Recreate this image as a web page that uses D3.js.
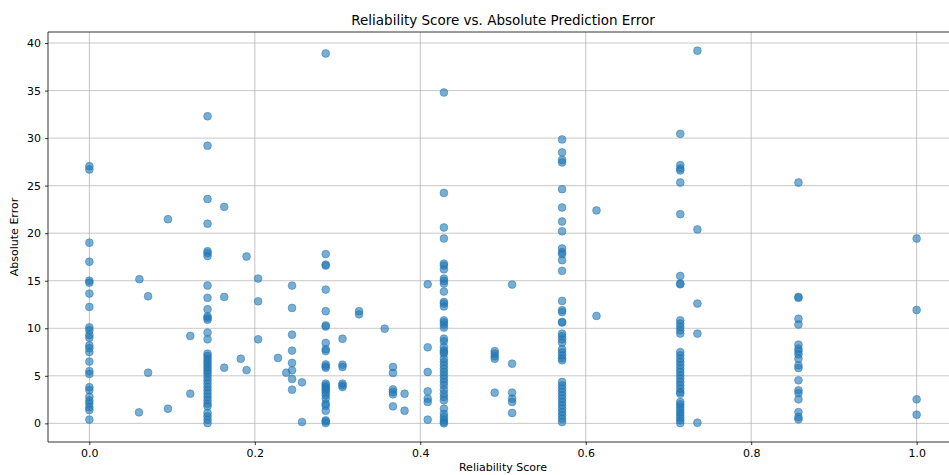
<!DOCTYPE html>
<html>
<head>
<meta charset="utf-8">
<script src="https://cdn.jsdelivr.net/npm/d3@7"></script>
<style>
  html, body { margin: 0; padding: 0; background: #fff; }
  svg { display: block; font-family: "DejaVu Sans", sans-serif; }
</style>
</head>
<body>
<svg id="chart" width="949" height="475"></svg>
<script>
// Absolute error of each prediction, grouped by reliability score k/7
const errAt0 = [27.05, 26.7, 19.0, 17.0, 15.0, 14.8, 13.65, 12.25, 10.1, 9.8, 9.3, 9.0, 8.2, 7.9, 7.5, 6.5, 5.5, 5.2, 3.8, 3.5, 2.8, 2.4, 2.1, 1.7, 1.4, 0.4];
const errAt1of7 = [32.3, 29.2, 23.6, 21.0, 18.1, 17.9, 17.6, 14.5, 13.2, 12.0, 11.26, 11.1, 10.9, 9.55, 8.84, 7.33, 7.09, 6.8, 6.53, 6.28, 6.0, 5.75, 5.47, 5.23, 4.88, 4.53, 4.18, 3.82, 3.47, 3.12, 2.77, 2.42, 2.07, 1.8, 1.09, 0.74, 0.39, 0.03];
const errAt2of7 = [38.9, 17.8, 16.7, 16.6, 14.07, 11.8, 10.3, 10.18, 8.46, 7.8, 7.6, 6.2, 6.0, 5.86, 4.18, 4.0, 3.82, 3.65, 3.47, 3.23, 2.95, 2.6, 2.07, 1.86, 1.33, 0.32, 0.21, 0.03];
const errAt3of7 = [34.8, 24.24, 20.6, 19.44, 16.8, 16.6, 16.2, 15.23, 14.98, 14.7, 13.86, 12.77, 12.6, 12.3, 10.84, 10.63, 10.39, 10.07, 8.9, 8.63, 8.04, 7.68, 7.5, 7.33, 6.8, 6.45, 6.1, 5.75, 5.4, 5.05, 4.7, 4.35, 4.0, 3.54, 3.12, 2.77, 2.42, 1.54, 1.0, 0.67, 0.39, 0.14, 0.0];
const errAt4of7 = [29.86, 28.5, 27.7, 27.44, 24.63, 22.7, 21.23, 20.2, 18.4, 18.0, 17.8, 17.16, 16.04, 12.88, 11.9, 11.7, 10.67, 10.6, 9.44, 9.16, 8.84, 8.49, 7.8, 7.47, 7.16, 6.84, 6.63, 4.35, 4.0, 3.65, 3.3, 2.95, 2.6, 2.25, 1.9, 1.54, 1.19, 0.84, 0.49, 0.14];
const errAt5of7 = [30.45, 27.16, 26.8, 26.6, 25.33, 22.0, 15.5, 14.7, 14.63, 10.84, 10.5, 10.14, 9.79, 9.44, 7.5, 7.16, 6.8, 6.45, 6.1, 5.75, 5.4, 5.05, 4.7, 4.35, 4.0, 3.65, 3.3, 3.12, 2.25, 2.0, 1.72, 1.44, 1.16, 0.88, 0.6, 0.32, 0.03];
const errAt6of7 = [25.33, 13.3, 13.2, 11.0, 10.4, 8.28, 7.86, 7.58, 7.26, 6.8, 6.1, 5.82, 4.53, 3.47, 3.19, 2.53, 1.19, 0.67, 0.42];
const errAt1 = [19.44, 11.93, 2.53, 0.91];

// Predictions whose reliability score falls between the k/7 levels
const otherScores = [
  0.0605, 0.071, 0.071, 0.060, 0.095, 0.095, 0.122, 0.122,
  0.163, 0.163, 0.163, 0.183, 0.190, 0.190, 0.204, 0.204, 0.204, 0.228, 0.238,
  0.245, 0.245, 0.245, 0.245, 0.245, 0.245, 0.245, 0.245,
  0.257, 0.257,
  0.306, 0.306, 0.306, 0.306, 0.306, 0.306,
  0.326, 0.326, 0.357,
  0.367, 0.367, 0.367, 0.367, 0.367, 0.367,
  0.381, 0.381,
  0.409, 0.409, 0.409, 0.409, 0.409, 0.409, 0.409,
  0.490, 0.490, 0.490, 0.490, 0.490,
  0.511, 0.511, 0.511, 0.511, 0.511, 0.511,
  0.613, 0.613,
  0.735, 0.735, 0.735, 0.735, 0.735
];
const otherErrors = [
  15.16, 13.37, 5.33, 1.16, 1.54, 21.47, 9.2, 3.12,
  22.77, 13.3, 5.86, 6.8, 17.55, 5.6, 15.23, 12.84, 8.84, 6.88, 5.33,
  14.49, 12.14, 9.33, 7.65, 6.35, 5.58, 4.67, 3.54,
  4.32, 0.14,
  8.9, 6.17, 5.93, 4.18, 4.0, 3.82,
  11.8, 11.47, 9.96,
  5.93, 5.3, 3.58, 3.3, 3.05, 1.79,
  3.12, 1.33,
  14.63, 8.0, 5.4, 3.37, 2.6, 2.25, 0.39,
  7.6, 7.33, 7.05, 6.8, 3.23,
  14.6, 6.28, 3.23, 2.6, 2.25, 1.09,
  22.4, 11.3,
  39.2, 20.4, 12.6, 9.44, 0.07
];

const xTicks = [0.0, 0.2, 0.4, 0.6, 0.8, 1.0];
const yTicks = [0, 5, 10, 15, 20, 25, 30, 35, 40];

// Assemble the point list
const levelGroups = [errAt0, errAt1of7, errAt2of7, errAt3of7, errAt4of7, errAt5of7, errAt6of7, errAt1];
const points = [];
levelGroups.forEach((errs, k) => errs.forEach(e => points.push({ score: k / 7, err: e })));
otherScores.forEach((s, i) => points.push({ score: s, err: otherErrors[i] }));

// Axes box and scales (5% padding around the data, as matplotlib does)
const margin = { left: 48, top: 32, right: 958, bottom: 442 };
const x = d3.scaleLinear().domain([-0.05, 1.05]).range([margin.left, margin.right]);
const y = d3.scaleLinear().domain([-1.96, 41.16]).range([margin.bottom, margin.top]);

const svg = d3.select("#chart");

// Grid
const grid = svg.append("g").attr("class", "grid");
grid.selectAll("line.v").data(xTicks).join("line")
  .attr("x1", d => x(d)).attr("x2", d => x(d))
  .attr("y1", margin.top).attr("y2", margin.bottom)
  .attr("stroke", "#b0b0b0").attr("stroke-opacity", 0.75).attr("stroke-width", 1);
grid.selectAll("line.h").data(yTicks).join("line")
  .attr("x1", margin.left).attr("x2", margin.right)
  .attr("y1", d => y(d)).attr("y2", d => y(d))
  .attr("stroke", "#b0b0b0").attr("stroke-opacity", 0.7).attr("stroke-width", 1);

// Scatter points
svg.append("g").selectAll("circle").data(points).join("circle")
  .attr("cx", d => x(d.score))
  .attr("cy", d => y(d.err))
  .attr("r", 3.9)
  .attr("fill", "#1f77b4")
  .attr("fill-opacity", 0.6)
  .attr("stroke", "#1f77b4")
  .attr("stroke-opacity", 0.6)
  .attr("stroke-width", 0.8);

// Axes
const xAxis = d3.axisBottom(x).tickValues(xTicks).tickFormat(d3.format(".1f")).tickSize(3).tickPadding(4);
const yAxis = d3.axisLeft(y).tickValues(yTicks).tickFormat(d3.format("d")).tickSize(3).tickPadding(4);

const gx = svg.append("g").attr("transform", `translate(0,${margin.bottom})`).call(xAxis);
const gy = svg.append("g").attr("transform", `translate(${margin.left},0)`).call(yAxis);
[gx, gy].forEach(g => {
  g.select(".domain").remove();
  g.selectAll("text").attr("font-size", 11).attr("fill", "#000").attr("font-family", "DejaVu Sans, sans-serif");
  g.selectAll("line").attr("stroke", "#000").attr("stroke-width", 0.8);
});

// Spines
const spines = svg.append("g").attr("stroke", "#000").attr("stroke-width", 0.8);
spines.append("line").attr("x1", margin.left).attr("x2", margin.left).attr("y1", margin.top).attr("y2", margin.bottom);
spines.append("line").attr("x1", margin.left).attr("x2", margin.right).attr("y1", margin.bottom).attr("y2", margin.bottom);
spines.append("line").attr("x1", margin.left).attr("x2", margin.right).attr("y1", margin.top).attr("y2", margin.top);
spines.append("line").attr("x1", margin.right).attr("x2", margin.right).attr("y1", margin.top).attr("y2", margin.bottom);

// Titles
const cx = (margin.left + margin.right) / 2;
svg.append("text").attr("x", cx).attr("y", 25).attr("text-anchor", "middle")
  .attr("font-size", 13.5).attr("fill", "#000").text("Reliability Score vs. Absolute Prediction Error");
svg.append("text").attr("x", cx).attr("y", 471).attr("text-anchor", "middle")
  .attr("font-size", 11).attr("fill", "#000").text("Reliability Score");
svg.append("text").attr("transform", `translate(18,${(margin.top + margin.bottom) / 2}) rotate(-90)`)
  .attr("text-anchor", "middle").attr("font-size", 11).attr("fill", "#000").text("Absolute Error");
</script>
</body>
</html>
